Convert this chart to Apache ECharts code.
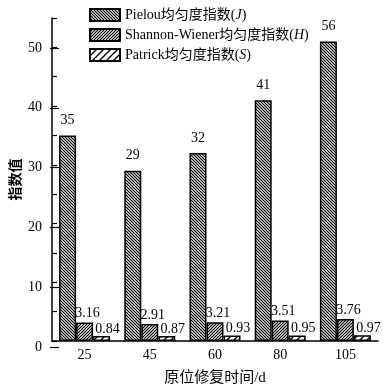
<!DOCTYPE html>
<html>
<head>
<meta charset="utf-8">
<script src="https://cdn.jsdelivr.net/npm/echarts@6/dist/echarts.min.js"></script>
<style>
  html, body { margin: 0; padding: 0; background: #fff; }
  #chart { width: 386px; height: 391px; }
</style>
</head>
<body>
<div id="chart"></div>
<script>
// data
const days = ['25', '45', '60', '80', '105'];
const seriesNames = ['Pielou均匀度指数(J)', 'Shannon-Wiener均匀度指数(H)', 'Patrick均匀度指数(S)'];
// bar heights as drawn (last Pielou bar is drawn near 51 although labelled 56)
const pielouBar = [35, 29, 32, 41, 51];
const pielouLabel = ['35', '29', '32', '41', '56'];
const shannon = [3.16, 2.91, 3.21, 3.51, 3.76];
const patrick = [0.84, 0.87, 0.93, 0.95, 0.97];
const majorTicks = [0, 10, 20, 30, 40, 50];

const font = '"Liberation Serif", "Noto Sans CJK SC", serif';

// diagonal hatch tiles
const hatch = (size, forward, lw) => {
  const c = document.createElement('canvas');
  c.width = c.height = size;
  const g = c.getContext('2d');
  g.fillStyle = '#fff';
  g.fillRect(0, 0, size, size);
  g.strokeStyle = '#000';
  g.lineWidth = lw;
  g.beginPath();
  if (forward) {
    g.moveTo(-1, size + 1); g.lineTo(size + 1, -1);
    g.moveTo(-1, 1); g.lineTo(1, -1);
    g.moveTo(size - 1, size + 1); g.lineTo(size + 1, size - 1);
  } else {
    g.moveTo(-1, -1); g.lineTo(size + 1, size + 1);
    g.moveTo(size - 1, -1); g.lineTo(size + 1, 1);
    g.moveTo(-1, size - 1); g.lineTo(1, size + 1);
  }
  g.stroke();
  return { image: c, repeat: 'repeat' };
};

const patterns = [hatch(3, false, 1.2), hatch(3, true, 1.2), hatch(7, true, 1.3)];

const chart = echarts.init(document.getElementById('chart'));

const barStyle = (i) => ({
  color: patterns[i],
  borderColor: '#000',
  borderWidth: 1.5
});

const option = {
  backgroundColor: '#fff',
  animation: false,
  textStyle: { fontFamily: font },
  legend: {
    orient: 'vertical',
    left: 84,
    top: 3,
    itemWidth: 30,
    itemHeight: 12,
    itemGap: 6,
    icon: 'rect',
    data: seriesNames,
    formatter: (name) => {
      const m = name.match(/^(.*\()(\w)\)$/);
      return '{t|' + m[1] + '}{i|' + m[2] + '}{t|)}';
    },
    textStyle: {
      fontFamily: font,
      fontSize: 14,
      color: '#000',
      rich: {
        t: { fontFamily: font, fontSize: 14, color: '#000' },
        i: { fontFamily: font, fontSize: 14, color: '#000', fontStyle: 'italic' }
      }
    }
  },
  grid: [
    { left: 50, right: 8, top: 18, bottom: 44 },
    { left: 50, right: 8, top: 48, bottom: 44 }
  ],
  xAxis: [
    {
      type: 'category',
      gridIndex: 0,
      data: days,
      name: '原位修复时间/d',
      nameLocation: 'middle',
      nameGap: 30,
      nameTextStyle: { fontFamily: font, fontSize: 15, color: '#000' },
      axisLine: { lineStyle: { color: '#000', width: 1.5 } },
      axisTick: { show: false },
      axisLabel: { color: '#000', fontFamily: font, fontSize: 14, margin: 7 }
    },
    {
      type: 'category',
      gridIndex: 1,
      data: days,
      show: false
    }
  ],
  yAxis: [
    {
      type: 'value',
      gridIndex: 0,
      min: 0,
      max: 55,
      interval: 5,
      name: '指数值',
      nameLocation: 'middle',
      nameGap: 30,
      nameRotate: 90,
      nameTextStyle: { fontFamily: '"Noto Sans CJK SC", sans-serif', fontSize: 14, fontWeight: 'bold', color: '#000' },
      axisLine: { show: true, lineStyle: { color: '#000', width: 1.5 } },
      axisTick: { show: true, inside: true, length: 5, lineStyle: { color: '#000', width: 1.2 } },
      axisLabel: { show: false },
      splitLine: { show: false }
    },
    {
      // major ticks and labels, every 10
      type: 'value',
      gridIndex: 1,
      min: majorTicks[0],
      max: majorTicks[majorTicks.length - 1],
      interval: 10,
      axisLine: { show: false },
      axisTick: { show: true, inside: true, length: 9, lineStyle: { color: '#000', width: 1.2 } },
      axisLabel: { color: '#000', fontFamily: font, fontSize: 14, margin: 8 },
      splitLine: { show: false }
    }
  ],
  series: [
    {
      name: seriesNames[0],
      type: 'bar',
      data: pielouBar,
      barWidth: 17,
      barGap: '0%',
      itemStyle: barStyle(0),
      label: {
        show: true,
        position: 'top',
        distance: 8,
        color: '#000',
        fontFamily: font,
        fontSize: 14,
        formatter: (p) => pielouLabel[p.dataIndex]
      }
    },
    {
      name: seriesNames[1],
      type: 'bar',
      data: shannon,
      barWidth: 17,
      barGap: '0%',
      itemStyle: barStyle(1),
      label: {
        show: true,
        position: 'top',
        distance: 2,
        offset: [3, 0],
        color: '#000',
        fontFamily: font,
        fontSize: 14
      }
    },
    {
      name: seriesNames[2],
      type: 'bar',
      data: patrick,
      barWidth: 17,
      barGap: '0%',
      itemStyle: barStyle(2),
      label: {
        show: true,
        position: 'top',
        distance: 0,
        offset: [6, 0],
        color: '#000',
        fontFamily: font,
        fontSize: 14
      }
    }
  ]
};

chart.setOption(option);
</script>
</body>
</html>
